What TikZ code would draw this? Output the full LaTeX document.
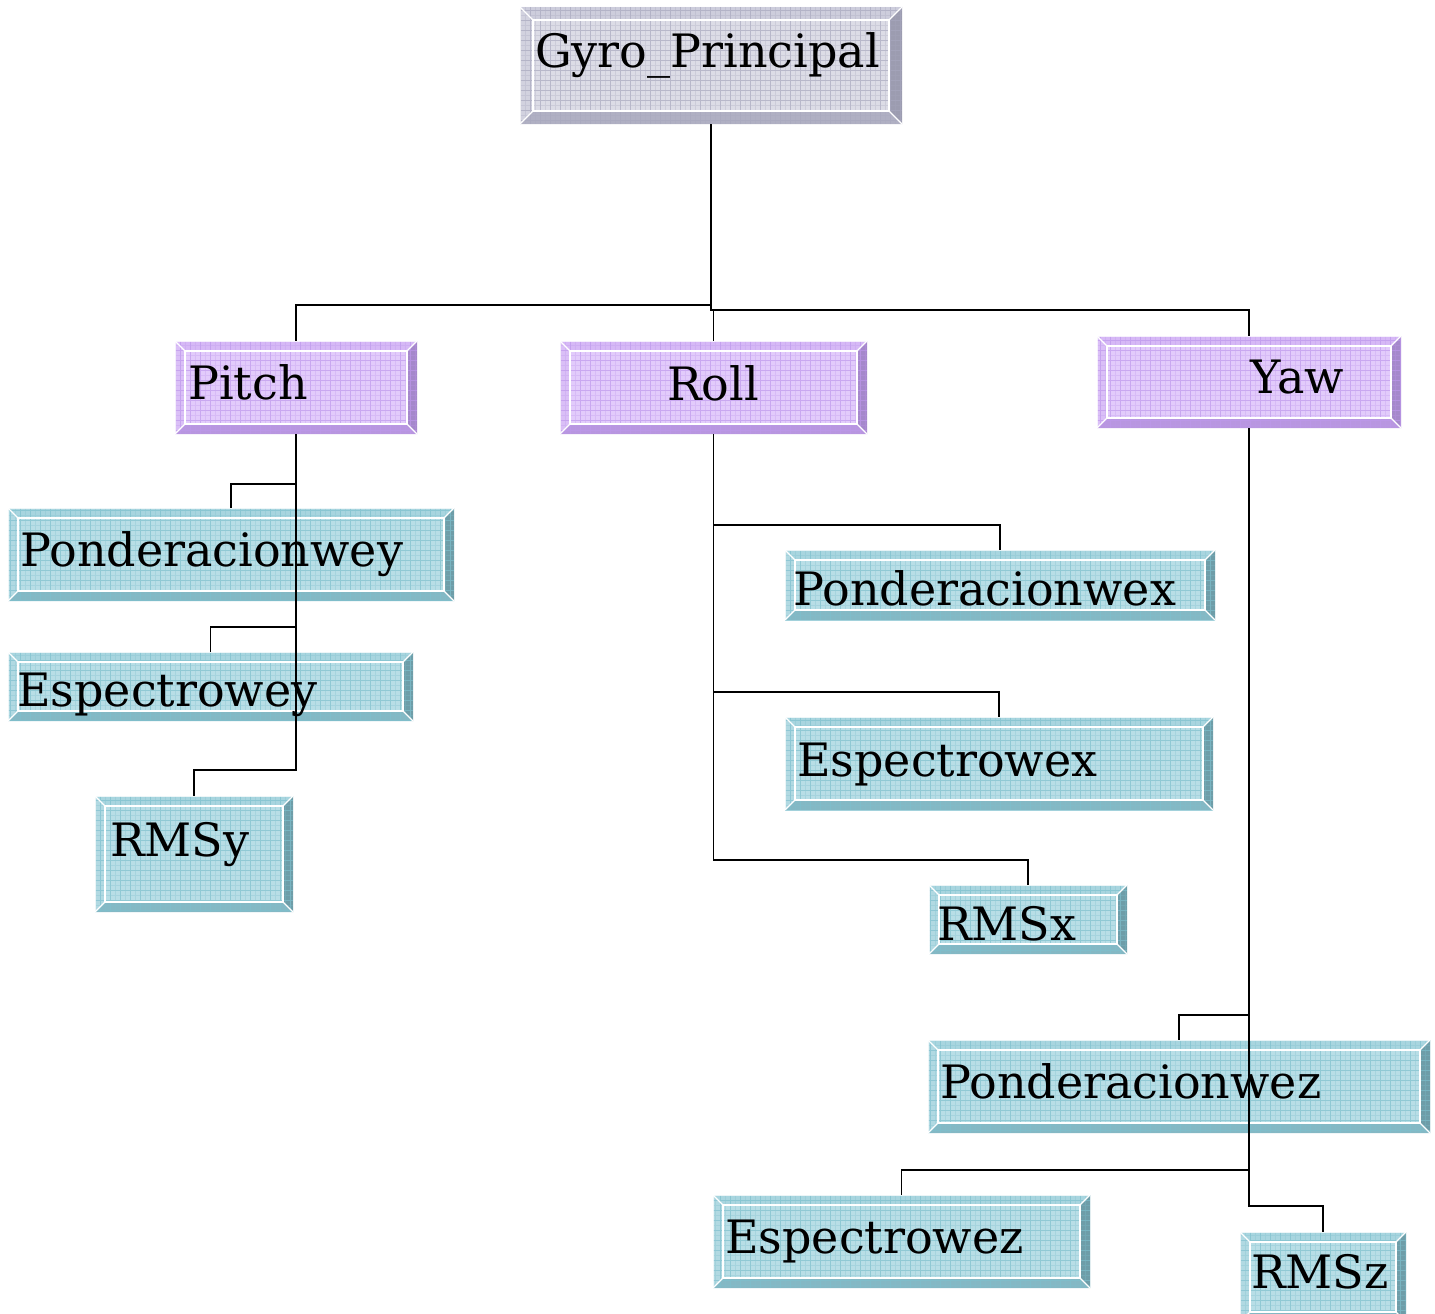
\documentclass[tikz,border=0pt]{standalone}
\usepackage{fontspec}
\setmainfont{DejaVu Serif}
\usetikzlibrary{calc}

% colour schemes: face, top/left bevel, bottom bevel, right bevel, grid
\definecolor{greyface}{HTML}{DCDCE6}
\definecolor{greytop}{HTML}{CDCDDC}
\definecolor{greybot}{HTML}{B0B0C3}
\definecolor{greyright}{HTML}{9C9CB0}
\definecolor{greygrid}{HTML}{A8A8BE}
\definecolor{purpface}{HTML}{E2CBFB}
\definecolor{purptop}{HTML}{D6B8F6}
\definecolor{purpbot}{HTML}{B896E0}
\definecolor{purpright}{HTML}{A588CB}
\definecolor{purpgrid}{HTML}{BE98EC}
\definecolor{tealface}{HTML}{B8DEE6}
\definecolor{tealtop}{HTML}{A8D5DF}
\definecolor{tealbot}{HTML}{84B8C4}
\definecolor{tealright}{HTML}{6E9DA8}
\definecolor{tealgrid}{HTML}{7EC0CE}

\tikzset{
  x=1pt, y=-1pt,
  boxbase/.style={rectangle, inner sep=0pt, outer sep=0pt, draw=none},
  label text/.style={inner sep=0pt, anchor=base west, font=\fontsize{46}{54}\selectfont},
  conn/.style={draw=black, line width=1.4pt},
  conn shade/.style={draw=black, draw opacity=0.4, line width=1.4pt},
}

% bevelled box: #1 bevel width (optional), #2 name, #3 x1, #4 y1, #5 x2, #6 y2, #7 scheme
\newcommand\bevbox[7][10]{%
  \pgfmathsetmacro\bbw{#5-#3}\pgfmathsetmacro\bbh{#6-#4}%
  \def\bv{#1}%
  \node[boxbase, fill=#7face, minimum width=\bbw pt, minimum height=\bbh pt,
        anchor=north west] (#2) at (#3,#4) {};
  \begin{scope}
    \clip (#3,#4) rectangle (#5,#6);
    \fill[#7top] (#3,#4) -- (#5,#4) -- (#5-\bv,#4+\bv) -- (#3+\bv,#4+\bv) -- cycle;
    \fill[#7top!90!white] (#3,#4) -- (#3+\bv,#4+\bv) -- (#3+\bv,#6-\bv) -- (#3,#6) -- cycle;
    \fill[#7bot] (#3,#6) -- (#3+\bv,#6-\bv) -- (#5-\bv,#6-\bv) -- (#5,#6) -- cycle;
    \fill[#7right] (#5,#4) -- (#5-\bv,#4+\bv) -- (#5-\bv,#6-\bv) -- (#5,#6) -- cycle;
    \draw[#7grid, line width=0.6pt, draw opacity=0.55, step=10pt] (#3,#4) grid (#5,#6);
    \draw[#7grid, line width=0.3pt, draw opacity=0.3, step=5pt] (#3,#4) grid (#5,#6);
    \draw[white, line width=1.6pt] (#3+\bv,#4+\bv) rectangle (#5-\bv,#6-\bv);
    \draw[white, line width=1.3pt] (#3,#4) -- (#3+\bv,#4+\bv) (#3,#6) -- (#3+\bv,#6-\bv)
      (#5,#4) -- (#5-\bv,#4+\bv) (#5,#6) -- (#5-\bv,#6-\bv);
    \draw[white, line width=1pt, draw opacity=0.8] (#3,#6) -- (#3,#4) -- (#5,#4);
  \end{scope}%
}

% branch connector from a parent box down to a child box
\newcommand\branch[4][conn]{%
  \draw[#1] (#2.south) |- ($(#3.north)+(0,-#4)$) -- (#3.north);%
}

\begin{document}
\begin{tikzpicture}
\useasboundingbox (0,0) rectangle (1435,1314);

% boxes
\bevbox[13]{gp}{520}{7}{902}{124}{grey}
\bevbox{pitch}{175}{341}{417}{434}{purp}
\bevbox{roll}{560}{341}{867}{434}{purp}
\bevbox{yaw}{1097}{336}{1401}{428}{purp}
\bevbox{pwy}{8}{508}{454}{601}{teal}
\bevbox{ewy}{8}{652}{413}{721}{teal}
\bevbox{rmsy}{95}{796}{293}{912}{teal}
\bevbox{pwx}{785}{550}{1215}{620}{teal}
\bevbox{ewx}{785}{717}{1213}{810}{teal}
\bevbox{rmsx}{929}{885}{1127}{954}{teal}
\bevbox{pwz}{928}{1040}{1430}{1133}{teal}
\bevbox{ewz}{713}{1195}{1090}{1288}{teal}
\bevbox{rmsz}{1240}{1232}{1406}{1322}{teal}

% connectors
\foreach \s in {conn, conn shade}{
  \branch[\s]{gp}{pitch}{36}
  \branch[\s]{gp}{roll}{31}
  \branch[\s]{gp}{yaw}{26}
  \branch[\s]{pitch}{pwy}{24}
  \branch[\s]{pitch}{ewy}{25}
  \branch[\s]{pitch}{rmsy}{26}
  \branch[\s]{roll}{pwx}{25}
  \branch[\s]{roll}{ewx}{25}
  \branch[\s]{roll}{rmsx}{25}
  \branch[\s]{yaw}{pwz}{25}
  \branch[\s]{yaw}{ewz}{25}
  \branch[\s]{yaw}{rmsz}{26}
}

% labels
\node[label text] (tgp) at (535,67) {Gyro\_Principal};
\node[label text] (tpitch) at (188,399) {Pitch};
\node[label text] (troll) at (667,400) {Roll};
\node[label text] (tyaw) at (1250,393) {Yaw};
\node[label text] (tpwy) at (20,566) {Ponderacionwey};
\node[label text] (tewy) at (17,706) {Espectrowey};
\node[label text] (trmsy) at (110,856) {RMSy};
\node[label text] (tpwx) at (793,605) {Ponderacionwex};
\node[label text] (tewx) at (797,776) {Espectrowex};
\node[label text] (trmsx) at (937,940) {RMSx};
\node[label text] (tpwz) at (940,1098) {Ponderacionwez};
\node[label text] (tewz) at (725,1253) {Espectrowez};
\node[label text] (trmsz) at (1251,1288) {RMSz};
\end{tikzpicture}
\end{document}
